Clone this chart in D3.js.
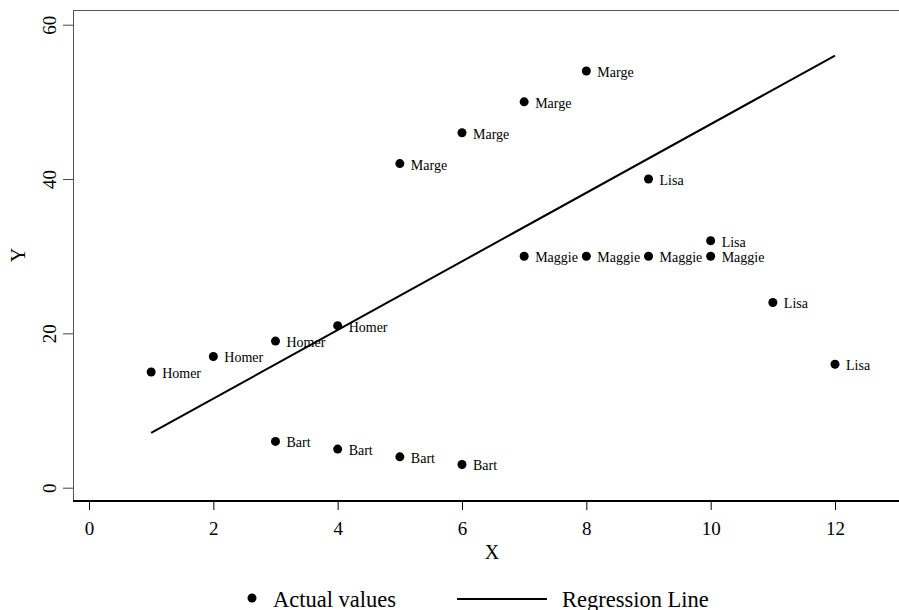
<!DOCTYPE html>
<html>
<head>
<meta charset="utf-8">
<script src="https://cdn.jsdelivr.net/npm/d3@7"></script>
<style>
  body { margin: 0; background: #fff; }
  svg text { font-family: "Liberation Serif", "Times New Roman", serif; fill: #000; }
</style>
</head>
<body>
<div class="chart"></div>
<script>
(function() {

// data
var names  = ['Homer','Homer','Homer','Homer',
              'Bart','Bart','Bart','Bart',
              'Marge','Marge','Marge','Marge',
              'Maggie','Maggie','Maggie','Maggie',
              'Lisa','Lisa','Lisa','Lisa'];
var xVals  = [1,2,3,4, 3,4,5,6, 5,6,7,8, 7,8,9,10, 9,10,11,12];
var yVals  = [15,17,19,21, 6,5,4,3, 42,46,50,54, 30,30,30,30, 40,32,24,16];

// regression line end points
var lineX = [1, 12];
var lineY = [7.1, 56];

var xTicks = [0,2,4,6,8,10,12];
var yTicks = [0,20,40,60];

var points = xVals.map(function(d, i) {
  return { x: d, y: yVals[i], name: names[i] };
});

var W = 899, H = 610;
var box = { left: 73, top: 10, right: 899, bottom: 501 };

var svg = d3.select('.chart')
  .append('svg')
  .attr('width', W)
  .attr('height', H);

var x = d3.scaleLinear().domain([0, 12]).range([89, 835]);
var y = d3.scaleLinear().domain([0, 60]).range([487.7, 24.7]);

// plot box
svg.append('rect')
  .attr('x', box.left + 0.5)
  .attr('y', box.top + 0.5)
  .attr('width', box.right - box.left)
  .attr('height', box.bottom - box.top)
  .attr('fill', 'none')
  .attr('stroke', '#555')
  .attr('stroke-width', 1);

// bottom axis line (heavier)
svg.append('line')
  .attr('x1', box.left)
  .attr('x2', box.right)
  .attr('y1', box.bottom)
  .attr('y2', box.bottom)
  .attr('stroke', '#000')
  .attr('stroke-width', 2);

// x axis
var xAxis = svg.append('g')
  .attr('transform', 'translate(0,' + box.bottom + ')')
  .call(d3.axisBottom(x).tickValues(xTicks).tickSize(9).tickSizeOuter(0).tickPadding(12));
xAxis.select('.domain').remove();
xAxis.selectAll('line').attr('stroke', '#000');
xAxis.selectAll('text')
  .attr('font-family', '"Liberation Serif", serif')
  .attr('font-size', 19)
  .attr('fill', '#000');

// y axis
var yAxis = svg.append('g')
  .attr('transform', 'translate(' + box.left + ',0)')
  .call(d3.axisLeft(y).tickValues(yTicks).tickSize(10).tickSizeOuter(0));
yAxis.select('.domain').remove();
yAxis.selectAll('line').attr('stroke', '#444');
yAxis.selectAll('text')
  .attr('font-family', '"Liberation Serif", serif')
  .attr('font-size', 19)
  .attr('fill', '#000')
  .attr('x', null)
  .attr('text-anchor', 'middle')
  .attr('transform', 'translate(-23,0) rotate(-90)')
  .attr('y', 0)
  .attr('dy', '0.33em');

// axis titles
svg.append('text')
  .attr('x', 492)
  .attr('y', 559)
  .attr('text-anchor', 'middle')
  .attr('font-size', 20)
  .text('X');

svg.append('text')
  .attr('transform', 'translate(25,255) rotate(-90)')
  .attr('text-anchor', 'middle')
  .attr('font-size', 20)
  .text('Y');

// regression line
var reg = d3.line()
  .x(function(d) { return x(d[0]); })
  .y(function(d) { return y(d[1]); });

svg.append('path')
  .datum(lineX.map(function(d, i) { return [d, lineY[i]]; }))
  .attr('d', reg)
  .attr('fill', 'none')
  .attr('stroke', '#000')
  .attr('stroke-width', 2);

// points
svg.selectAll('circle.pt').data(points).enter()
  .append('circle')
  .attr('class', 'pt')
  .attr('cx', function(d) { return x(d.x); })
  .attr('cy', function(d) { return y(d.y); })
  .attr('r', 4.5)
  .attr('fill', '#000');

svg.selectAll('text.lbl').data(points).enter()
  .append('text')
  .attr('class', 'lbl')
  .attr('x', function(d) { return x(d.x) + 11; })
  .attr('y', function(d) { return y(d.y) + 1; })
  .attr('dy', '0.35em')
  .attr('font-size', 14)
  .text(function(d) { return d.name; });

// legend
var legend = svg.append('g');
legend.append('circle')
  .attr('cx', 252)
  .attr('cy', 598)
  .attr('r', 4.5)
  .attr('fill', '#000');
legend.append('text')
  .attr('x', 273)
  .attr('y', 606.5)
  .attr('font-size', 22.5)
  .text('Actual values');
legend.append('line')
  .attr('x1', 457)
  .attr('x2', 547)
  .attr('y1', 599)
  .attr('y2', 599)
  .attr('stroke', '#000')
  .attr('stroke-width', 2);
legend.append('text')
  .attr('x', 562)
  .attr('y', 606.5)
  .attr('font-size', 22.5)
  .text('Regression Line');

})();
</script>
</body>
</html>
